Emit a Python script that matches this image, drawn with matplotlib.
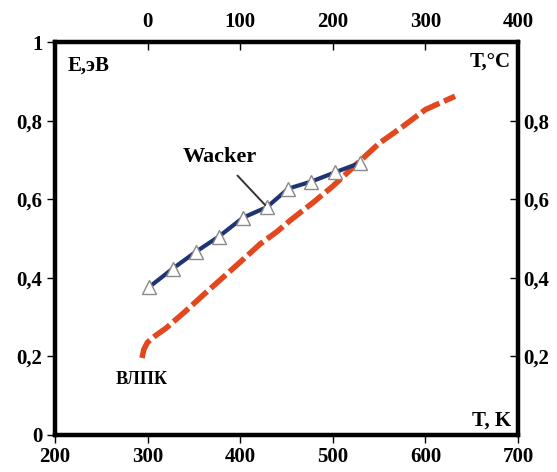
import matplotlib
matplotlib.use("Agg")
import matplotlib.pyplot as plt
from matplotlib.ticker import FuncFormatter

##Données

# Wacker (triangles)
wackerT = [302, 327, 352, 377, 403, 429, 452, 477, 502, 529]
wackerE = [0.377, 0.423, 0.466, 0.505, 0.553, 0.58, 0.627, 0.645, 0.668, 0.692]

# ВЛПК (tirets)
vlpkT = [294, 296, 300, 308, 320, 340, 360, 380, 400, 421, 440, 454, 480, 500, 526, 550, 575, 600, 632]
vlpkE = [0.196, 0.218, 0.236, 0.252, 0.272, 0.313, 0.356, 0.398, 0.44, 0.485, 0.518, 0.546, 0.594, 0.633, 0.69, 0.742, 0.784, 0.828, 0.862]

bottomTicks = [200, 300, 400, 500, 600, 700]
topTicks = [0, 100, 200, 300, 400]
leftTicks = [0, 0.2, 0.4, 0.6, 0.8, 1]
rightTicks = [0.2, 0.4, 0.6, 0.8]

plt.rcParams['font.family'] = ['Liberation Serif', 'DejaVu Serif']
plt.rcParams['font.weight'] = 'bold'

fig = plt.figure(figsize=(5.57, 4.72), dpi=100)
ax = fig.add_axes([0.0987, 0.0784, 0.8313, 0.8326])

def virgule(v, pos):
    if abs(v - round(v)) < 1e-9:
        return "%d" % round(v)
    return ("%.1f" % v).replace(".", ",")

ax.plot(vlpkT, vlpkE, color='#e2471d', lw=4, ls=(0, (3.6, 0.9)), zorder=2)
ax.plot(wackerT, wackerE, color='#1f3472', lw=3, marker='^', ms=10,
        mfc='white', mec='#8a8a8a', mew=1, zorder=3)

ax.set_xlim(200, 700)
ax.set_ylim(0, 1)
ax.set_xticks(bottomTicks)
ax.set_yticks(leftTicks)
ax.yaxis.set_major_formatter(FuncFormatter(virgule))
ax.tick_params(axis='x', direction='out', length=6, width=1, labelsize=15, pad=3)
ax.tick_params(axis='y', direction='out', length=6, width=1, labelsize=15, pad=3)
for s in ax.spines.values():
    s.set_linewidth(3)

# axe haut en °C
axTop = ax.twiny()
axTop.set_xlim(-100, 400)
axTop.set_xticks(topTicks)
axTop.tick_params(axis='x', direction='in', length=6, width=1, labelsize=15, pad=7)

# axe droit
axR = ax.twinx()
axR.set_ylim(0, 1)
axR.set_yticks(rightTicks)
axR.yaxis.set_major_formatter(FuncFormatter(virgule))
axR.tick_params(axis='y', direction='in', length=6, width=1, labelsize=15, pad=4)
for a in (axTop, axR):
    for s in a.spines.values():
        s.set_linewidth(3)

for lab in ax.get_xticklabels() + ax.get_yticklabels() + axTop.get_xticklabels() + axR.get_yticklabels():
    lab.set_fontweight('bold')

ax.text(0.028, 0.965, "E,эВ", transform=ax.transAxes, ha='left', va='top', fontsize=15, fontweight='bold')
ax.text(0.985, 0.975, "T,°C", transform=ax.transAxes, ha='right', va='top', fontsize=15, fontweight='bold')
ax.text(0.985, 0.01, "T, K", transform=ax.transAxes, ha='right', va='bottom', fontsize=15, fontweight='bold')
ax.text(294, 0.14, "ВЛПК", ha='center', va='center', fontsize=13, fontweight='bold')

ax.annotate("Wacker", xy=(429, 0.58), xytext=(378, 0.708), ha='center', va='center',
            fontsize=16, fontweight='bold',
            arrowprops=dict(arrowstyle='-', color='#333333', lw=1.4, shrinkA=6, shrinkB=2))

fig.savefig("out.png", dpi=100)
